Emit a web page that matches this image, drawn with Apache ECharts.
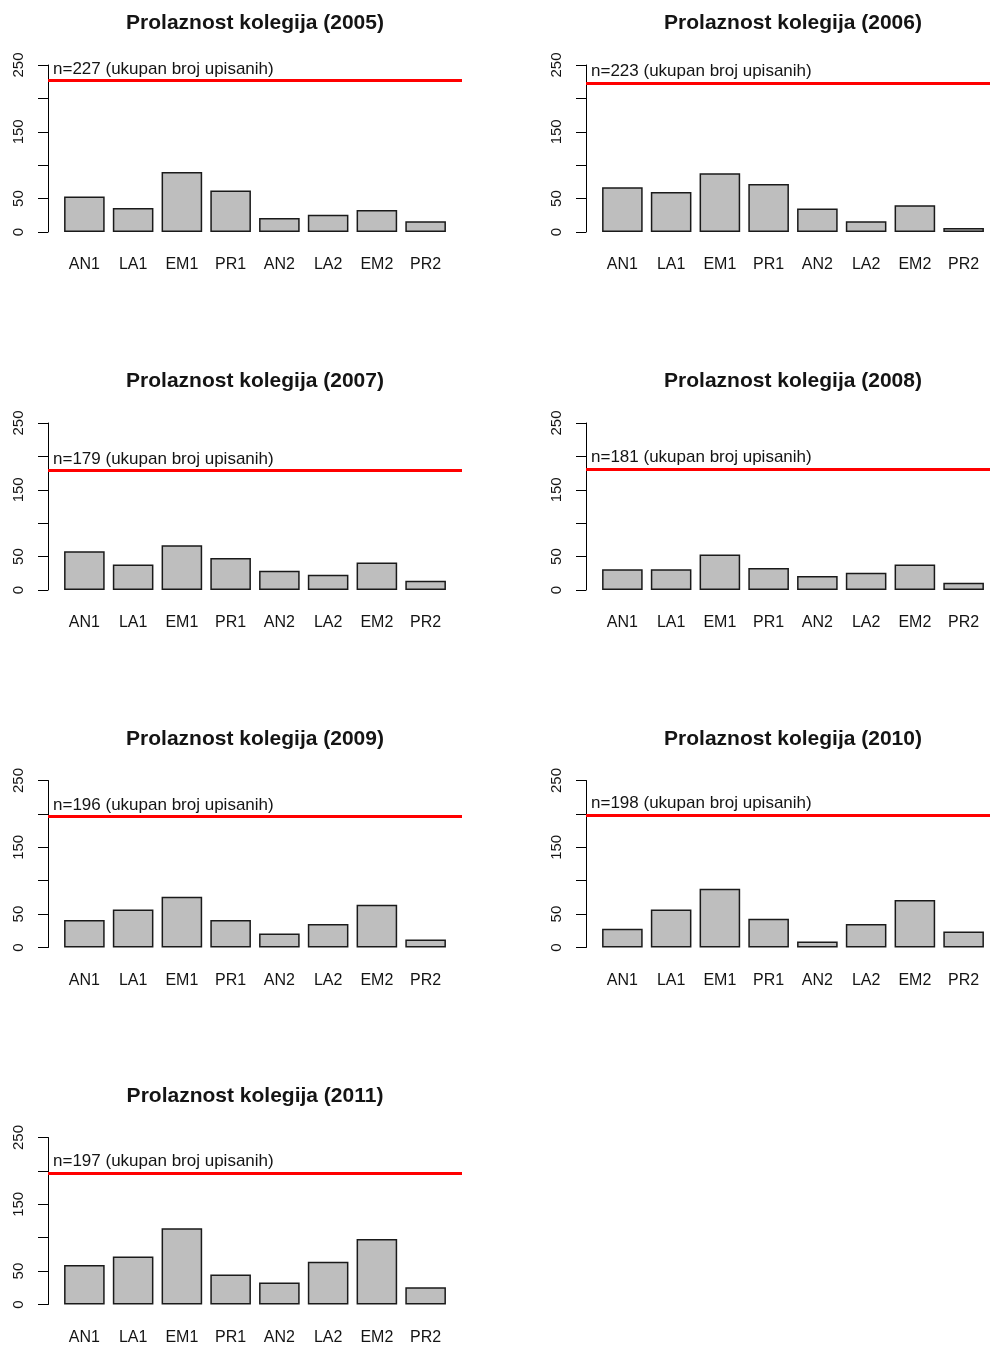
<!DOCTYPE html>
<html>
<head>
<meta charset="utf-8">
<script src="https://cdn.jsdelivr.net/npm/echarts@6/dist/echarts.min.js"></script>
<style>
html,body{margin:0;padding:0;background:#fff;}
#chart{width:990px;height:1346px;}
</style>
</head>
<body>
<div id="chart"></div>
<script>
const categories = ['AN1','LA1','EM1','PR1','AN2','LA2','EM2','PR2'];
const years = [2005, 2006, 2007, 2008, 2009, 2010, 2011];
const enrolled = [227, 223, 179, 181, 196, 198, 197];
const passed2005 = [53, 36, 90, 62, 21, 26, 33, 16];
const passed2006 = [67, 60, 88, 72, 35, 16, 40, 6];
const passed2007 = [58, 38, 67, 48, 29, 23, 41, 14];
const passed2008 = [31, 31, 53, 33, 21, 26, 38, 11];
const passed2009 = [41, 57, 76, 41, 21, 35, 64, 12];
const passed2010 = [28, 57, 88, 43, 9, 35, 71, 24];
const passed2011 = [59, 72, 114, 45, 33, 64, 98, 26];
const yTicksShown = [0, 50, 150, 250];

const passedByYear = [passed2005, passed2006, passed2007, passed2008, passed2009, passed2010, passed2011];

const colLeft = [48, 586];
const rowTop = [65, 423, 780.5, 1137.5];
const plotW = 414, plotH = 167;
const barInset = 12, barW = 390;
const FONT = '"Liberation Sans", Arial, sans-serif';
const TXT = '#141414';

const option = {
  animation: false,
  backgroundColor: '#ffffff',
  title: [], grid: [], xAxis: [], yAxis: [], series: []
};

years.forEach((yr, i) => {
  const L = colLeft[i % 2];
  const T = rowTop[Math.floor(i / 2)];
  const gA = option.grid.length;
  option.grid.push({left: L, top: T, width: plotW, height: plotH, containLabel: false});
  option.grid.push({left: L + barInset, top: T, width: barW, height: plotH, containLabel: false});
  const gB = gA + 1;

  option.title.push({
    text: 'Prolaznost kolegija (' + yr + ')',
    left: L + plotW / 2, top: T - 52, textAlign: 'center', padding: 0,
    textStyle: {fontFamily: FONT, fontWeight: 'bold', fontSize: 21, color: TXT}
  });

  // grid A: y axis and reference line
  option.xAxis.push({gridIndex: gA, type: 'value', min: 0, max: 1, show: false});
  option.yAxis.push({
    gridIndex: gA, type: 'value', min: 0, max: 250, interval: 50,
    splitLine: {show: false},
    axisLine: {show: true, lineStyle: {color: '#000', width: 1}},
    axisTick: {show: true, length: 10, lineStyle: {color: '#000', width: 1}},
    axisLabel: {
      show: true, rotate: 90, margin: 22, fontFamily: FONT, fontSize: 15, color: TXT,
      formatter: v => yTicksShown.indexOf(v) >= 0 ? String(v) : ''
    }
  });
  // grid B: bars
  option.xAxis.push({
    gridIndex: gB, type: 'category', data: categories,
    axisLine: {show: false}, axisTick: {show: false},
    axisLabel: {margin: 25, fontFamily: FONT, fontSize: 16, color: TXT}
  });
  option.yAxis.push({gridIndex: gB, type: 'value', min: 0, max: 250, show: false});

  const axA = option.xAxis.length - 2;
  const axB = option.xAxis.length - 1;

  option.series.push({
    type: 'line', xAxisIndex: axA, yAxisIndex: axA,
    data: [[0, enrolled[i]], [1, enrolled[i]]],
    symbol: 'none', silent: true, lineStyle: {opacity: 0},
    markLine: {
      silent: true, symbol: ['none', 'none'], animation: false,
      data: [{yAxis: enrolled[i]}],
      lineStyle: {color: '#ff0000', width: 3, type: 'solid'},
      label: {
        show: true, position: 'insideStartTop', distance: [5, 3],
        formatter: 'n=' + enrolled[i] + ' (ukupan broj upisanih)',
        fontFamily: FONT, fontSize: 17, color: TXT
      },
      emphasis: {disabled: true}
    }
  });
  option.series.push({
    type: 'bar', xAxisIndex: axB, yAxisIndex: axB,
    data: passedByYear[i],
    barCategoryGap: '16.7%',
    itemStyle: {color: '#bebebe', borderColor: '#1a1a1a', borderWidth: 1.5},
    silent: true
  });
});

const chart = echarts.init(document.getElementById('chart'), null, {renderer: 'canvas'});
chart.setOption(option);
</script>
</body>
</html>
